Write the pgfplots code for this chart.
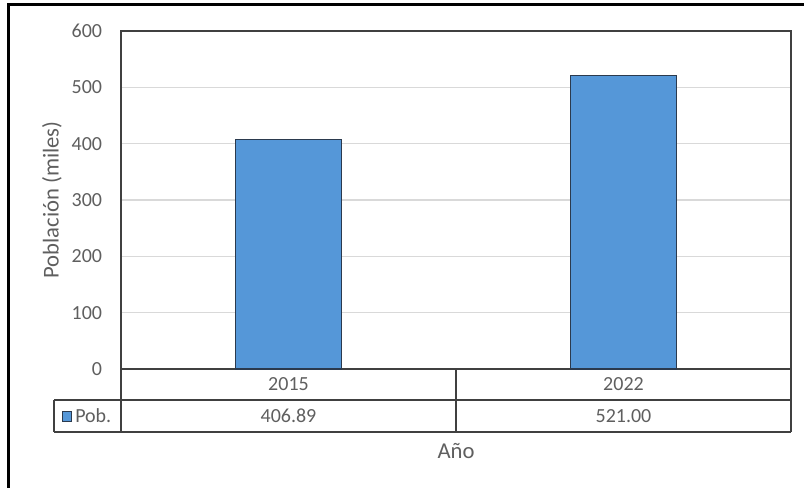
\documentclass[border=0pt]{standalone}
\usepackage{fontspec}
\setmainfont{Carlito}
\usepackage{pgfplots}
\pgfplotsset{compat=1.18}

\definecolor{txtgray}{HTML}{5F5F5F}
\definecolor{barblue}{HTML}{5597D8}
\definecolor{baredge}{HTML}{2B3A4E}
\definecolor{gridgray}{HTML}{D9D9D9}
\definecolor{rulegray}{HTML}{404040}

\begin{document}
\begin{tikzpicture}[font=\fontsize{15}{18}\selectfont]
\path[use as bounding box] (0,0) rectangle (603pt,365.25pt);
\begin{axis}[
  at={(90.75pt,88.5pt)}, anchor=south west,
  scale only axis, width=502.5pt, height=253.5pt,
  xmin=-0.5, xmax=1.5, ymin=0, ymax=600,
  xtick={0,1}, xticklabels={2015,2022},
  ytick={0,100,...,600},
  major tick length=0pt,
  ybar, bar width=79.5pt,
  ymajorgrids, grid style={draw=gridgray, line width=0.8pt},
  axis line style={draw=rulegray, line width=0.8pt},
  /pgf/number format/assume math mode=true,
  tick label style={font=\fontsize{15}{18}\selectfont, text=txtgray, inner sep=0pt},
  yticklabel style={anchor=east, xshift=-14pt},
  xticklabel style={anchor=center, yshift=-11.5pt},
  xlabel={Año}, ylabel={Población (miles)},
  label style={font=\fontsize{17}{20}\selectfont, text=txtgray},
  xlabel style={at={(axis description cs:0.5,-0.2426)}, anchor=center},
  ylabel style={at={(axis description cs:-0.103,0.5)}, anchor=center},
]
\addplot[fill=barblue, draw=baredge, line width=0.8pt] coordinates {(0,406.89) (1,521.00)};
\end{axis}
% data table under the axis, in pixel units of the reference
\begin{scope}[x=0.75pt, y=-0.75pt, shift={(0pt,365.25pt)}]
\draw[rulegray, line width=0.8pt] (54,400) -- (791,400) (54,432) -- (791,432)
  (54,400) -- (54,432) (121,369) -- (121,432) (456,369) -- (456,432) (791,369) -- (791,432);
\draw[baredge, fill=barblue, line width=0.6pt] (62,411) rectangle (71,421);
\node[anchor=west, text=txtgray, inner sep=0pt] at (75,416) {Pob.};
\node[text=txtgray] at (288.5,416) {406.89};
\node[text=txtgray] at (623.5,416) {521.00};
\draw[black, line width=2.25pt] (8,495) -- (8,5) -- (812,5);
\end{scope}
\end{tikzpicture}
\end{document}
